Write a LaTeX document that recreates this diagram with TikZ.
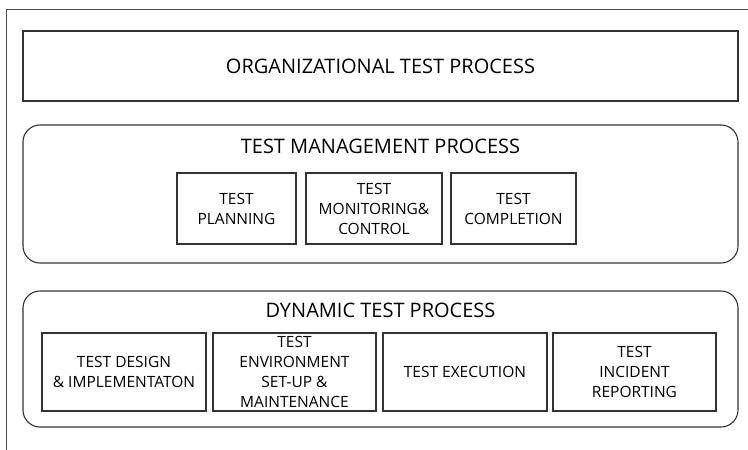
\documentclass[tikz,border=0pt]{standalone}
\usepackage{fontspec}
\setmainfont{Open Sans}
\begin{document}
\begin{tikzpicture}[x=1pt,y=-1pt,
  every node/.style={text=black},
  box/.style={draw=black!80,line width=1.1pt,inner sep=0pt,align=center},
  big/.style={font=\fontsize{20}{23}\selectfont},
  small/.style={font=\fontsize{15.5}{20}\selectfont},
  rbox/.style={box,rounded corners=17pt}]
\useasboundingbox (0,0) rectangle (748,450);
\draw[black!70,line width=1pt] (6,450) -- (6,9) -- (748,9);
\node[box,big,minimum width=715pt,minimum height=70pt] (org) at (380.5,66) {ORGANIZATIONAL TEST PROCESS};
\node[rbox,minimum width=715pt,minimum height=138pt] (tmp) at (380.5,194) {};
\node[big] (tmpt) at (380.5,146) {TEST MANAGEMENT PROCESS};
\node[box,small,minimum width=119pt,minimum height=71pt] (plan) at (236.5,208.5) {TEST\\PLANNING};
\node[box,small,minimum width=136pt,minimum height=71pt] (mon) at (374,208.5) {TEST\\MONITORING\&\\CONTROL};
\node[box,small,minimum width=125pt,minimum height=71pt] (comp) at (513.5,208.5) {TEST\\COMPLETION};
\node[rbox,minimum width=715pt,minimum height=136pt] (dtp) at (380.5,359) {};
\node[big] (dtpt) at (380.5,310) {DYNAMIC TEST PROCESS};
\node[box,small,minimum width=164pt,minimum height=78pt] (des) at (124,372) {TEST DESIGN\\\& IMPLEMENTATON};
\node[box,small,minimum width=163pt,minimum height=78pt] (env) at (294.5,372) {TEST\\ENVIRONMENT\\SET-UP \&\\MAINTENANCE};
\node[box,small,minimum width=164pt,minimum height=78pt] (exe) at (465,372) {TEST EXECUTION};
\node[box,small,minimum width=163pt,minimum height=78pt] (rep) at (634.5,372) {TEST\\INCIDENT\\REPORTING};
\end{tikzpicture}
\end{document}
